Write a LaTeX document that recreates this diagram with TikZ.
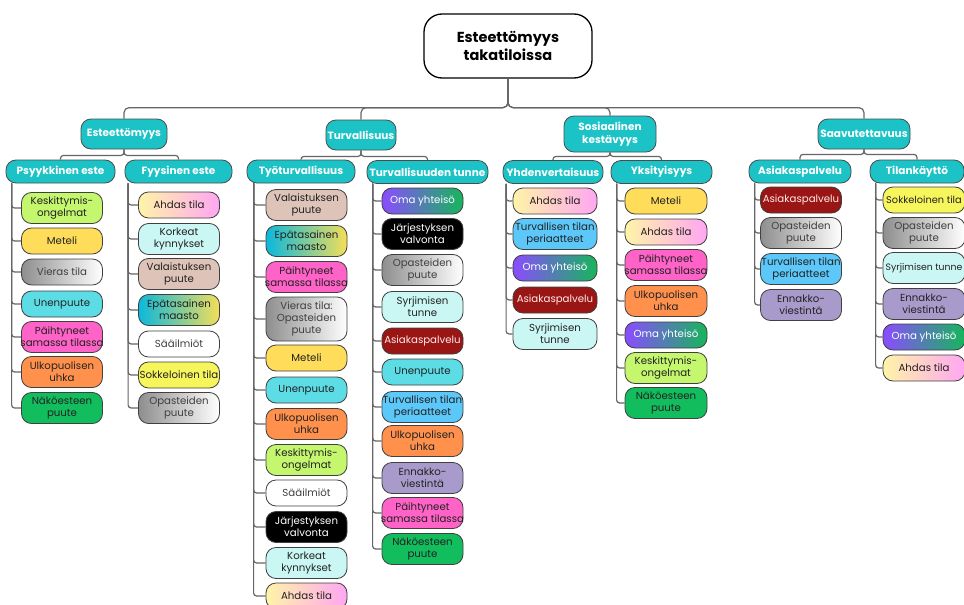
\documentclass[tikz,border=0pt]{standalone}
\usepackage{fontspec}
\setmainfont{Poppins}
\usetikzlibrary{calc}
\definecolor{tealh}{HTML}{1BC3C7}
\definecolor{limec}{HTML}{C4F76E}
\definecolor{yelc}{HTML}{FFDC5A}
\definecolor{cyanc}{HTML}{5CDDE5}
\definecolor{pinkc}{HTML}{FF63C8}
\definecolor{orngc}{HTML}{FF914D}
\definecolor{grnc}{HTML}{12BD5E}
\definecolor{lcyanc}{HTML}{CAF7F3}
\definecolor{beigec}{HTML}{DEC3B8}
\definecolor{lemonc}{HTML}{F7F55C}
\definecolor{bluc}{HTML}{5CC8FA}
\definecolor{lavc}{HTML}{A89BCB}
\definecolor{dredc}{HTML}{9A1614}
\definecolor{grayl}{HTML}{8E8E8E}
\definecolor{ahdl}{HTML}{FFF4A8}
\definecolor{ahdr}{HTML}{FFA6F2}
\definecolor{epal}{HTML}{0BB8DC}
\definecolor{epar}{HTML}{F5DE58}
\definecolor{omal}{HTML}{8A4CFF}
\definecolor{omar}{HTML}{16B65B}
\definecolor{txt}{HTML}{222222}
\newcommand\zw[1]{\makebox[0pt][c]{#1}}
\begin{document}
\begin{tikzpicture}[x=1pt,y=-1pt,
  kid/.style={draw=black!75, line width=0.8pt, rounded corners=10pt, minimum width=81pt,
    minimum height=26pt, inner xsep=0pt, inner ysep=1pt, align=center,
    font=\fontsize{10.2}{12}\selectfont, text=txt},
  two/.style={minimum height=31pt},
  three/.style={minimum height=44pt},
  head/.style={draw=black!70, line width=0.8pt, fill=tealh, rounded corners=10pt,
    minimum height=23pt, text=white, inner xsep=0pt, align=center,
    font=\bfseries\fontsize{10.5}{12.5}\selectfont},
  conn/.style={draw=black!60, line width=1.2pt, rounded corners=3pt},
  grayg/.style={left color=grayl, right color=white, text=black!75},
  ahdas/.style={left color=ahdl, right color=ahdr},
  epa/.style={left color=epal, right color=epar},
  oma/.style={left color=omal, right color=omar, text=white},
  blk/.style={fill=black, text=white},
  red/.style={fill=dredc, text=red!8},
  wht/.style={fill=white, text=black!75}
]
\useasboundingbox (0,0) rectangle (964,605);
\fill[white] (0,0) rectangle (964,605);

% root
\node[draw=black, line width=1.3pt, rounded corners=18pt, minimum width=168pt, minimum height=64pt,
  align=center, font=\bfseries\fontsize{14.5}{18}\selectfont] (root) at (508,46) {Esteettömyys\\takatiloissa};

% level 1
\node[head, minimum height=30pt, minimum width=86pt] (e1) at (124,134) {Esteettömyys};
\node[head, minimum height=30pt, minimum width=70pt] (e2) at (361,135) {Turvallisuus};
\node[head, minimum height=36pt, minimum width=92pt] (e3) at (610,134) {Sosiaalinen\\kestävyys};
\node[head, minimum height=30pt, minimum width=92pt] (e4) at (864,134) {Saavutettavuus};

\foreach \e in {e1,e2,e3,e4}
  \draw[conn, rounded corners=5pt] (root.south) -- ++(0,29) -| (\e.north);

% level 2
\node[head, minimum width=109pt] (p1) at (60.5,171.5) {Psyykkinen este};
\node[head, minimum width=107pt] (p2) at (178.5,171.5) {Fyysinen este};
\node[head, minimum width=108pt] (p3) at (301,171.5) {Työturvallisuus};
\node[head, minimum width=121pt] (p4) at (427.5,172) {\zw{Turvallisuuden tunne}};
\node[head, minimum width=100pt] (p5) at (553,172) {\zw{Yhdenvertaisuus}};
\node[head, minimum width=101pt] (p6) at (661.5,172) {Yksityisyys};
\node[head, minimum width=102pt] (p7) at (800,171.5) {Asiakaspalvelu};
\node[head, minimum width=94pt] (p8) at (917,171.5) {Tilankäyttö};

\draw[conn] (e1.south) -- ++(0,6) -| (p1.north);
\draw[conn] (e1.south) -- ++(0,6) -| (p2.north);
\draw[conn] (e2.south) -- ++(0,6) -| (p3.north);
\draw[conn] (e2.south) -- ++(0,6) -| (p4.north);
\draw[conn] (e3.south) -- ++(0,4) -| (p5.north);
\draw[conn] (e3.south) -- ++(0,4) -| (p6.north);
\draw[conn] (e4.south) -- ++(0,5) -| (p7.north);
\draw[conn] (e4.south) -- ++(0,5) -| (p8.north);

% Psyykkinen este
\node[kid,two,fill=limec] (a1) at (62,208) {Keskittymis-\\ongelmat};
\node[kid,fill=yelc] (a2) at (62,241) {Meteli};
\node[kid,grayg] (a3) at (62,272) {Vieras tila};
\node[kid,fill=cyanc] (a4) at (62,304) {Unenpuute};
\node[kid,two,fill=pinkc] (a5) at (62,337) {Päihtyneet\\\zw{samassa tilassa}};
\node[kid,two,fill=orngc] (a6) at (62,372) {Ulkopuolisen\\uhka};
\node[kid,two,fill=grnc] (a7) at (62,408) {Näköesteen\\puute};
\foreach \c in {a1,a2,a3,a4,a5,a6,a7}
  \draw[conn] ($(p1.south west)+(6,0)$) |- (\c.west);

% Fyysinen este
\node[kid,ahdas] (b1) at (179,205) {Ahdas tila};
\node[kid,two,fill=lcyanc] (b2) at (179,239) {Korkeat\\kynnykset};
\node[kid,two,fill=beigec] (b3) at (179,274) {Valaistuksen\\puute};
\node[kid,two,epa] (b4) at (179,310) {Epätasainen\\maasto};
\node[kid,wht] (b5) at (179,344) {Sääilmiöt};
\node[kid,fill=lemonc] (b6) at (179,375) {\zw{Sokkeloinen tila}};
\node[kid,two,grayg] (b7) at (179,408) {Opasteiden\\puute};
\foreach \c in {b1,b2,b3,b4,b5,b6,b7}
  \draw[conn] ($(p2.south west)+(3.5,0)$) |- (\c.west);

% Työturvallisuus
\node[kid,two,fill=beigec] (c1) at (306.5,205) {Valaistuksen\\puute};
\node[kid,two,epa] (c2) at (306.5,241) {Epätasainen\\maasto};
\node[kid,two,fill=pinkc] (c3) at (306.5,277) {Päihtyneet\\\zw{samassa tilassa}};
\node[kid,three,grayg] (c4) at (306.5,319) {Vieras tila:\\Opasteiden\\puute};
\node[kid,fill=yelc] (c5) at (306.5,358) {Meteli};
\node[kid,fill=cyanc] (c6) at (306.5,390) {Unenpuute};
\node[kid,two,fill=orngc] (c7) at (306.5,424) {Ulkopuolisen\\uhka};
\node[kid,two,fill=limec] (c8) at (306.5,460) {Keskittymis-\\ongelmat};
\node[kid,wht] (c9) at (306.5,493) {Sääilmiöt};
\node[kid,two,blk] (c10) at (306.5,527) {Järjestyksen\\valvonta};
\node[kid,two,fill=lcyanc] (c11) at (306.5,563) {Korkeat\\kynnykset};
\node[kid,ahdas] (c12) at (306.5,596) {Ahdas tila};
\foreach \c in {c1,c2,c3,c4,c5,c6,c7,c8,c9,c10,c11,c12}
  \draw[conn] ($(p3.south west)+(7,0)$) |- (\c.west);

% Turvallisuuden tunne
\node[kid,oma] (d1) at (422.5,201) {Oma yhteisö};
\node[kid,two,blk] (d2) at (422.5,234) {Järjestyksen\\valvonta};
\node[kid,two,grayg] (d3) at (422.5,270) {Opasteiden\\puute};
\node[kid,two,fill=lcyanc] (d4) at (422.5,307) {Syrjimisen\\tunne};
\node[kid,red] (d5) at (422.5,341) {\zw{Asiakaspalvelu}};
\node[kid,fill=cyanc] (d6) at (422.5,372) {Unenpuute};
\node[kid,two,fill=bluc] (d7) at (422.5,407) {\zw{Turvallisen tilan}\\periaatteet};
\node[kid,two,fill=orngc] (d8) at (422.5,441) {Ulkopuolisen\\uhka};
\node[kid,two,fill=lavc] (d9) at (422.5,478) {Ennakko-\\viestintä};
\node[kid,two,fill=pinkc] (d10) at (422.5,513) {Päihtyneet\\\zw{samassa tilassa}};
\node[kid,two,fill=grnc] (d11) at (422.5,549) {Näköesteen\\puute};
\foreach \c in {d1,d2,d3,d4,d5,d6,d7,d8,d9,d10,d11}
  \draw[conn] ($(p4.south west)+(6,0)$) |- (\c.west);

% Yhdenvertaisuus
\node[kid,ahdas,minimum width=84pt] (f1) at (555,201) {Ahdas tila};
\node[kid,two,fill=bluc,minimum width=84pt] (f2) at (555,234) {\zw{Turvallisen tilan}\\periaatteet};
\node[kid,oma,minimum width=84pt] (f3) at (555,268) {Oma yhteisö};
\node[kid,red,minimum width=84pt] (f4) at (555,300) {\zw{Asiakaspalvelu}};
\node[kid,two,fill=lcyanc,minimum width=84pt] (f5) at (555,334) {Syrjimisen\\tunne};
\foreach \c in {f1,f2,f3,f4,f5}
  \draw[conn] ($(p5.south west)+(3.5,0)$) |- (\c.west);

% Yksityisyys
\node[kid,fill=yelc,minimum width=82pt] (g1) at (666,201) {Meteli};
\node[kid,ahdas,minimum width=82pt] (g2) at (666,232) {Ahdas tila};
\node[kid,two,fill=pinkc,minimum width=82pt] (g3) at (666,265) {Päihtyneet\\\zw{samassa tilassa}};
\node[kid,two,fill=orngc,minimum width=82pt] (g4) at (666,301) {Ulkopuolisen\\uhka};
\node[kid,oma,minimum width=82pt] (g5) at (666,335) {Oma yhteisö};
\node[kid,two,fill=limec,minimum width=82pt] (g6) at (666,368) {Keskittymis-\\ongelmat};
\node[kid,two,fill=grnc,minimum width=82pt] (g7) at (666,403) {Näköesteen\\puute};
\foreach \c in {g1,g2,g3,g4,g5,g6,g7}
  \draw[conn] ($(p6.south west)+(6,0)$) |- (\c.west);

% Asiakaspalvelu
\node[kid,red] (h1) at (801,200) {\zw{Asiakaspalvelu}};
\node[kid,two,grayg] (h2) at (801,233) {Opasteiden\\puute};
\node[kid,two,fill=bluc] (h3) at (801,269) {\zw{Turvallisen tilan}\\periaatteet};
\node[kid,two,fill=lavc] (h4) at (801,305) {Ennakko-\\viestintä};
\foreach \c in {h1,h2,h3,h4}
  \draw[conn] ($(p7.south west)+(6,0)$) |- (\c.west);

% Tilankäyttö
\node[kid,fill=lemonc,minimum width=82pt] (k1) at (924,200) {\zw{\fontsize{9.8}{12}\selectfont Sokkeloinen tila}};
\node[kid,two,grayg,minimum width=82pt] (k2) at (924,233) {Opasteiden\\puute};
\node[kid,two,fill=lcyanc,minimum width=82pt] (k3) at (924,268) {\zw{\fontsize{9.3}{12}\selectfont Syrjimisen tunne}};
\node[kid,two,fill=lavc,minimum width=82pt] (k4) at (924,304) {Ennakko-\\viestintä};
\node[kid,oma,minimum width=82pt] (k5) at (924,337) {Oma yhteisö};
\node[kid,ahdas,minimum width=82pt] (k6) at (924,368) {Ahdas tila};
\foreach \c in {k1,k2,k3,k4,k5,k6}
  \draw[conn] ($(p8.south west)+(6,0)$) |- (\c.west);
\end{tikzpicture}
\end{document}
